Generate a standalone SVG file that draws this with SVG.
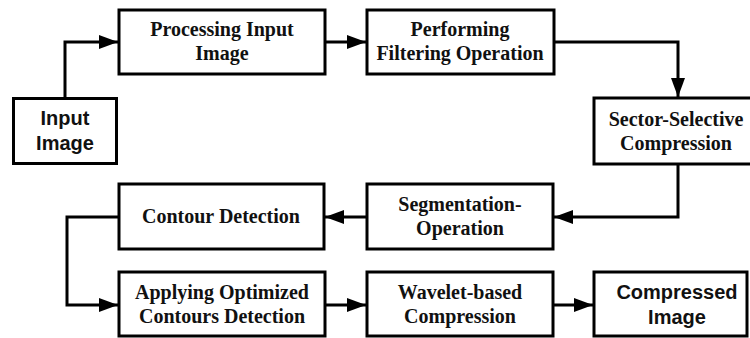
<svg xmlns="http://www.w3.org/2000/svg" width="750" height="338" viewBox="0 0 750 338">
<style>
.box{fill:#fff;stroke:#000;stroke-width:3}
.t{font-family:"Liberation Serif","Times New Roman",serif;font-weight:bold;font-size:20px;text-anchor:middle;fill:#111}
.s{font-family:"Liberation Sans",Arial,sans-serif;font-weight:bold;font-size:20px;text-anchor:middle;fill:#111}
.c{fill:none;stroke:#000;stroke-width:3;marker-end:url(#ah)}
</style>
<defs>
<marker id="ah" markerUnits="userSpaceOnUse" markerWidth="20" markerHeight="16" refX="19" refY="7" orient="auto">
<path d="M0,0 L19,7 L0,14 z" fill="#000"/>
</marker>
</defs>
<rect width="750" height="338" fill="#fff"/>
<g id="connectors">
<path class="c" d="M65,98 V42 H118"/>
<path class="c" d="M325,42 H366"/>
<path class="c" d="M554,42 H678 V97"/>
<path class="c" d="M678,164 V217 H554"/>
<path class="c" d="M367,217 H325"/>
<path class="c" d="M119,217 H67 V305 H118"/>
<path class="c" d="M325,305 H366"/>
<path class="c" d="M553,305 H593"/>
</g>
<g id="input">
<rect class="box" x="13.5" y="98.5" width="103" height="65"/>
<text class="s" x="65" y="125">Input</text>
<text class="s" x="65" y="150">Image</text>
</g>
<g id="processing">
<rect class="box" x="119" y="10" width="206" height="64"/>
<text class="t" x="222" y="36">Processing Input</text>
<text class="t" x="222" y="60">Image</text>
</g>
<g id="filtering">
<rect class="box" x="367" y="10" width="187" height="64"/>
<text class="t" x="460" y="36">Performing</text>
<text class="t" x="460" y="60">Filtering Operation</text>
</g>
<g id="sector">
<rect class="box" x="594" y="98" width="170" height="66"/>
<text class="t" x="676" y="126">Sector-Selective</text>
<text class="t" x="676" y="150">Compression</text>
</g>
<g id="segmentation">
<rect class="box" x="367" y="184" width="186" height="65"/>
<text class="t" x="460" y="211">Segmentation-</text>
<text class="t" x="460" y="235">Operation</text>
</g>
<g id="contour">
<rect class="box" x="119" y="184" width="205" height="65"/>
<text class="t" x="221" y="223">Contour Detection</text>
</g>
<g id="applying">
<rect class="box" x="119" y="272" width="206" height="64"/>
<text class="t" x="222" y="299">Applying Optimized</text>
<text class="t" x="222" y="323">Contours Detection</text>
</g>
<g id="wavelet">
<rect class="box" x="367" y="272" width="186" height="64"/>
<text class="t" x="460" y="299">Wavelet-based</text>
<text class="t" x="460" y="323">Compression</text>
</g>
<g id="compressed">
<rect class="box" x="594" y="272" width="153" height="64"/>
<text class="s" x="677" y="299">Compressed</text>
<text class="s" x="677" y="324">Image</text>
</g>
</svg>
